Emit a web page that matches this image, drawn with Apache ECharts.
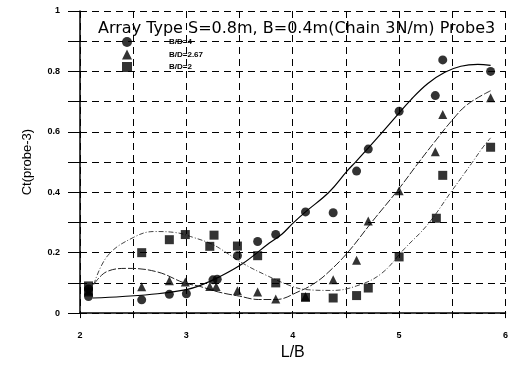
<!DOCTYPE html>
<html>
<head>
<meta charset="utf-8">
<script src="https://cdn.jsdelivr.net/npm/echarts@6/dist/echarts.min.js"></script>
<style>
	html,body{margin:0;padding:0;background:#fff}
	#main{width:511px;height:366px}
</style>
</head>
<body>
<div id="main"></div>
<script>
// measured points
var bd4 = [[2.08,0.055],[2.08,0.08],[2.58,0.044],[2.84,0.062],[3.0,0.064],[3.25,0.11],[3.29,0.112],[3.48,0.19],[3.67,0.237],[3.84,0.26],[4.12,0.335],[4.38,0.332],[4.6,0.47],[4.71,0.543],[5.0,0.668],[5.34,0.72],[5.41,0.838],[5.86,0.80]];
var bd267 = [[2.08,0.075],[2.58,0.087],[2.84,0.107],[2.99,0.103],[3.22,0.088],[3.28,0.088],[3.48,0.074],[3.67,0.07],[3.84,0.047],[4.12,0.055],[4.38,0.11],[4.6,0.175],[4.71,0.305],[5.0,0.405],[5.34,0.534],[5.41,0.657],[5.86,0.713]];
var bd2 = [[2.08,0.07],[2.08,0.09],[2.58,0.2],[2.84,0.243],[2.99,0.26],[3.22,0.221],[3.26,0.258],[3.48,0.222],[3.67,0.19],[3.84,0.10],[4.12,0.052],[4.38,0.05],[4.6,0.058],[4.71,0.083],[5.0,0.186],[5.35,0.314],[5.41,0.456],[5.86,0.549]];
// fitted curves
var fit4 = [[2.12,0.05],[2.4,0.055],[2.73,0.064],[3.0,0.078],[3.12,0.09],[3.31,0.12],[3.53,0.164],[3.78,0.232],[3.9,0.262],[4.0,0.297],[4.12,0.335],[4.34,0.40],[4.51,0.47],[4.59,0.50],[4.77,0.57],[4.96,0.646],[5.11,0.706],[5.27,0.76],[5.43,0.797],[5.58,0.817],[5.74,0.823],[5.86,0.82]];
var fit267 = [[2.13,0.095],[2.25,0.137],[2.45,0.148],[2.73,0.136],[2.98,0.10],[3.12,0.089],[3.3,0.07],[3.5,0.056],[3.68,0.045],[3.84,0.045],[4.06,0.072],[4.21,0.10],[4.34,0.137],[4.52,0.202],[4.74,0.30],[4.99,0.408],[5.18,0.497],[5.33,0.565],[5.49,0.635],[5.64,0.69],[5.86,0.736]];
var fit2 = [[2.13,0.095],[2.26,0.19],[2.5,0.25],[2.7,0.27],[2.89,0.267],[3.07,0.25],[3.23,0.23],[3.31,0.215],[3.53,0.165],[3.74,0.127],[3.99,0.089],[4.12,0.078],[4.37,0.075],[4.6,0.09],[4.83,0.13],[5.05,0.213],[5.27,0.294],[5.49,0.402],[5.68,0.495],[5.79,0.55],[5.86,0.58]];

var myChart = echarts.init(document.getElementById('main'));
var tickFont = {color:'#000', fontSize:9, fontWeight:'bold', fontFamily:'Liberation Sans'};
var option = {
	animation:false,
	title:{
		text:'Array Type S=0.8m, B=0.4m(Chain 3N/m) Probe3',
		left:93, top:16,
		textStyle:{fontSize:16, fontWeight:'normal', color:'#000', fontFamily:'DejaVu Sans'}
	},
	legend:{
		orient:'vertical',
		left:117, top:32,
		itemWidth:10, itemHeight:10, itemGap:2.5,
		data:[{name:'B/D=4',icon:'circle'},{name:'B/D=2.67',icon:'triangle'},{name:'B/D=2',icon:'rect'}],
		textStyle:{fontSize:8, fontWeight:'bold', color:'#000', fontFamily:'Liberation Sans', padding:[0,0,0,32]}
	},
	grid:{left:80, right:3, top:11, bottom:47},
	xAxis:{
		type:'value', min:2, max:6, interval:0.5,
		name:'L/B', nameLocation:'middle', nameGap:31,
		nameTextStyle:{fontSize:16, color:'#000', fontFamily:'Liberation Sans'},
		axisLine:{lineStyle:{color:'#000', width:1.5}},
		axisTick:{length:5, lineStyle:{color:'#000'}},
		axisLabel:Object.assign({margin:18, formatter:function(v){ return Math.abs(v-Math.round(v))<1e-6 ? String(Math.round(v)) : ''; }}, tickFont),
		splitLine:{lineStyle:{color:'#000', type:[7,5], width:1}}
	},
	yAxis:{
		type:'value', min:0, max:1, interval:0.1,
		name:'Ct(probe-3)', nameLocation:'middle', nameGap:46,
		nameTextStyle:{fontSize:13, color:'#000', fontFamily:'Liberation Sans'},
		axisLine:{show:true, lineStyle:{color:'#000', width:1.5}},
		axisTick:{show:true, length:12, lineStyle:{color:'#000'}},
		axisLabel:Object.assign({margin:20, formatter:function(v){ var k=Math.round(v*10); return k%2===0 ? String(k/10) : ''; }}, tickFont),
		splitLine:{lineStyle:{color:'#000', type:[7,5], width:1}}
	},
	series:[
		{name:'B/D=4', type:'scatter', symbol:'circle', symbolSize:9, itemStyle:{color:'#000'}, data:bd4, z:5},
		{name:'B/D=2.67', type:'scatter', symbol:'triangle', symbolSize:9, itemStyle:{color:'#000'}, data:bd267, z:5},
		{name:'B/D=2', type:'scatter', symbol:'rect', symbolSize:9, itemStyle:{color:'#000'}, data:bd2, z:5},
		{name:'fit4', type:'line', smooth:0.4, showSymbol:false, data:fit4, lineStyle:{color:'#000', width:1.2}},
		{name:'fit267', type:'line', smooth:0.4, showSymbol:false, data:fit267, lineStyle:{color:'#222', width:1, type:[8,2]}},
		{name:'fit2', type:'line', smooth:0.4, showSymbol:false, data:fit2, lineStyle:{color:'#444', width:1, type:[5,2,1,2]}}
	]
};
myChart.setOption(option);
</script>
</body>
</html>
